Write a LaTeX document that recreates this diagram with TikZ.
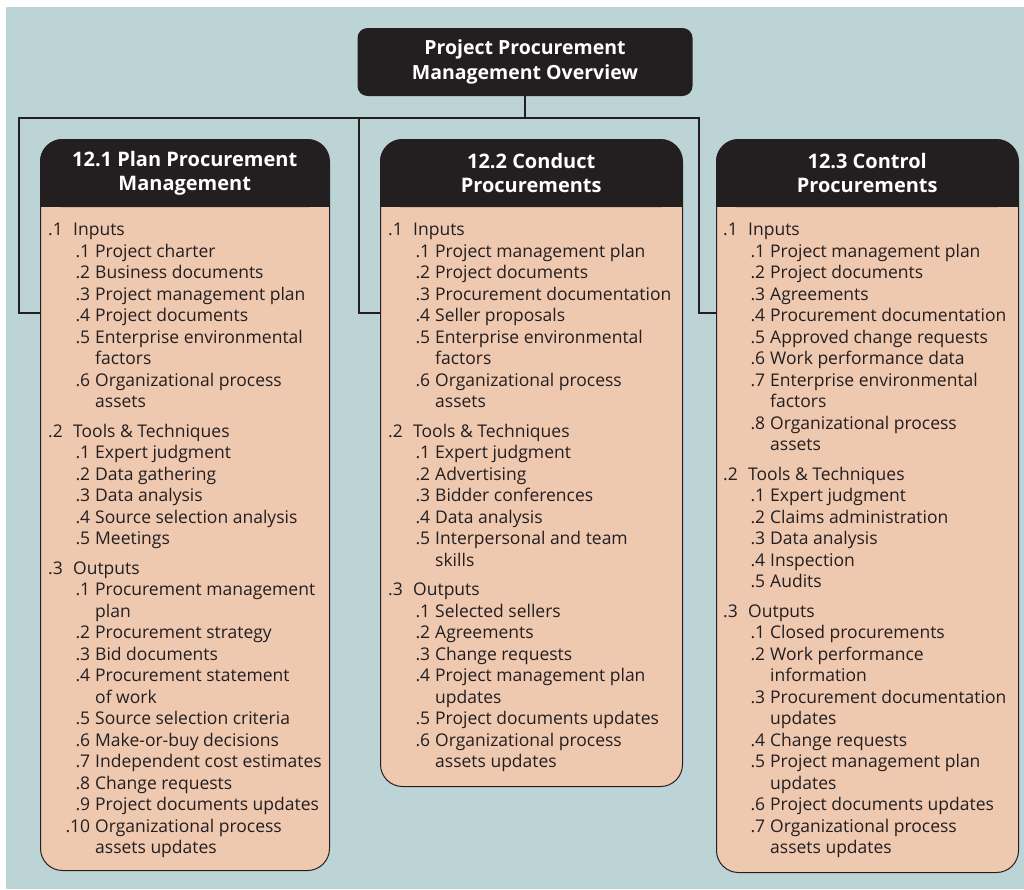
\documentclass[tikz,border=0pt]{standalone}
\usepackage{fontspec}
\setmainfont{Open Sans}
\usepackage{tikz}
\usetikzlibrary{positioning}
\definecolor{bg}{HTML}{BDD4D6}
\definecolor{peach}{HTML}{EFC8B0}
\definecolor{ink}{HTML}{231F20}
\newcommand{\grp}[2]{\makebox[25pt][l]{#1}#2}
\newcommand{\itm}[2]{\hspace*{24pt}\makebox[18pt][r]{#1}\hspace{5pt}#2}
\newcommand{\cnt}[1]{\hspace*{47pt}#1}

\begin{document}
\begin{tikzpicture}[x=1pt,y=-1pt,
    colbox/.style={fill=peach,draw=ink,line width=1pt,rounded corners=22pt,anchor=north west},
    hdr/.style={fill=ink,text=white,rounded corners=22pt,anchor=north west,minimum height=68pt,align=center,inner sep=0pt,font=\fontsize{20}{24}\selectfont\bfseries},
    lst/.style={anchor=north west,align=left,inner sep=0pt,text=ink,font=\fontsize{17.5}{21.5}\selectfont},
    link/.style={draw=ink,line width=1.2pt}]
  \useasboundingbox (0,0) rectangle (1024,889);
  \fill[white] (0,0) rectangle (1024,889);
  \fill[bg] (6,7) rectangle (1024,889);

  \node[fill=ink,text=white,rounded corners=10pt,minimum width=335pt,minimum height=68pt,align=center,inner sep=0pt,font=\fontsize{19.5}{25}\selectfont\bfseries] (top) at (525,62) {Project Procurement\\Management Overview};

  \node[colbox,minimum width=289pt,minimum height=731pt] (b1) at (40,139) {};
  \node[colbox,minimum width=302pt,minimum height=647pt] (b2) at (380,139) {};
  \node[colbox,minimum width=302pt,minimum height=733pt] (b3) at (716,139) {};

  \fill[ink] ([yshift=-40pt]b1.north west) rectangle ([yshift=-68pt]b1.north east);
  \fill[ink] ([yshift=-40pt]b2.north west) rectangle ([yshift=-68pt]b2.north east);
  \fill[ink] ([yshift=-40pt]b3.north west) rectangle ([yshift=-68pt]b3.north east);
  \node[hdr,minimum width=289pt] (h1) at (40,139) {12.1 Plan Procurement\\Management};
  \node[hdr,minimum width=302pt] (h2) at (380,139) {12.2 Conduct\\Procurements};
  \node[hdr,minimum width=302pt] (h3) at (716,139) {12.3 Control\\Procurements};

  \node[lst] (l1) at (48,223) {\grp{.1}{Inputs}\\
    \itm{.1}{Project charter}\\
    \itm{.2}{Business documents}\\
    \itm{.3}{Project management plan}\\
    \itm{.4}{Project documents}\\
    \itm{.5}{Enterprise environmental}\\
    \cnt{factors}\\
    \itm{.6}{Organizational process}\\
    \cnt{assets}\\[8pt]
    \grp{.2}{Tools \& Techniques}\\
    \itm{.1}{Expert judgment}\\
    \itm{.2}{Data gathering}\\
    \itm{.3}{Data analysis}\\
    \itm{.4}{Source selection analysis}\\
    \itm{.5}{Meetings}\\[8pt]
    \grp{.3}{Outputs}\\
    \itm{.1}{Procurement management}\\
    \cnt{plan}\\
    \itm{.2}{Procurement strategy}\\
    \itm{.3}{Bid documents}\\
    \itm{.4}{Procurement statement}\\
    \cnt{of work}\\
    \itm{.5}{Source selection criteria}\\
    \itm{.6}{Make-or-buy decisions}\\
    \itm{.7}{Independent cost estimates}\\
    \itm{.8}{Change requests}\\
    \itm{.9}{Project documents updates}\\
    \itm{.10}{Organizational process}\\
    \cnt{assets updates}};

  \node[lst] (l2) at (388,223) {\grp{.1}{Inputs}\\
    \itm{.1}{Project management plan}\\
    \itm{.2}{Project documents}\\
    \itm{.3}{Procurement documentation}\\
    \itm{.4}{Seller proposals}\\
    \itm{.5}{Enterprise environmental}\\
    \cnt{factors}\\
    \itm{.6}{Organizational process}\\
    \cnt{assets}\\[8pt]
    \grp{.2}{Tools \& Techniques}\\
    \itm{.1}{Expert judgment}\\
    \itm{.2}{Advertising}\\
    \itm{.3}{Bidder conferences}\\
    \itm{.4}{Data analysis}\\
    \itm{.5}{Interpersonal and team}\\
    \cnt{skills}\\[8pt]
    \grp{.3}{Outputs}\\
    \itm{.1}{Selected sellers}\\
    \itm{.2}{Agreements}\\
    \itm{.3}{Change requests}\\
    \itm{.4}{Project management plan}\\
    \cnt{updates}\\
    \itm{.5}{Project documents updates}\\
    \itm{.6}{Organizational process}\\
    \cnt{assets updates}};

  \node[lst] (l3) at (723,223) {\grp{.1}{Inputs}\\
    \itm{.1}{Project management plan}\\
    \itm{.2}{Project documents}\\
    \itm{.3}{Agreements}\\
    \itm{.4}{Procurement documentation}\\
    \itm{.5}{Approved change requests}\\
    \itm{.6}{Work performance data}\\
    \itm{.7}{Enterprise environmental}\\
    \cnt{factors}\\
    \itm{.8}{Organizational process}\\
    \cnt{assets}\\[8pt]
    \grp{.2}{Tools \& Techniques}\\
    \itm{.1}{Expert judgment}\\
    \itm{.2}{Claims administration}\\
    \itm{.3}{Data analysis}\\
    \itm{.4}{Inspection}\\
    \itm{.5}{Audits}\\[8pt]
    \grp{.3}{Outputs}\\
    \itm{.1}{Closed procurements}\\
    \itm{.2}{Work performance}\\
    \cnt{information}\\
    \itm{.3}{Procurement documentation}\\
    \cnt{updates}\\
    \itm{.4}{Change requests}\\
    \itm{.5}{Project management plan}\\
    \cnt{updates}\\
    \itm{.6}{Project documents updates}\\
    \itm{.7}{Organizational process}\\
    \cnt{assets updates}};

  \coordinate (j1) at (19,118);
  \coordinate (j2) at (359,118);
  \coordinate (j3) at (699,118);
  \draw[link] (top.south) -- (top.south |- j1);
  \draw[link] (b1.west |- 0,313) -| (j1) -- (j3) |- (b3.west |- 0,313);
  \draw[link] (j2) |- (b2.west |- 0,313);
\end{tikzpicture}
\end{document}
